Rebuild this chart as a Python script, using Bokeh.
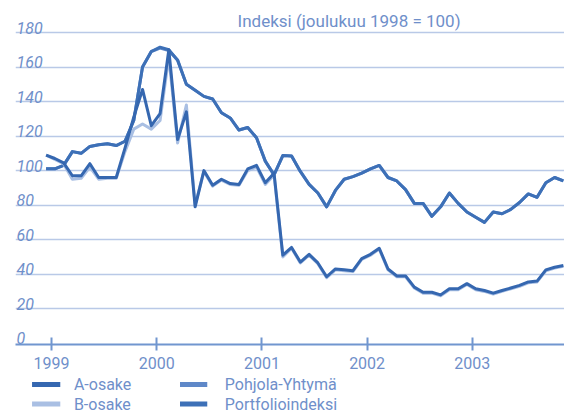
from bokeh.plotting import figure
from bokeh.models import FixedTicker, Range1d
from bokeh.layouts import column
from bokeh.core.properties import value
from bokeh.embed import file_html
from bokeh.resources import INLINE

# ---- data (monthly, joulukuu 1998 .. marraskuu 2003) ----
START_YEAR, START_MONTH, N_MONTHS = 1998, 12, 60

A_OSAKE = [109, 107, 104.5, 97, 97, 104, 96, 96, 96, 113,
           131, 147, 126, 133, 170, 118, 134, 79, 100, 91.5,
           95, 92.5, 92, 101, 103, 93, 98.5, 51, 55.5, 47,
           51.5, 46.5, 38.5, 43, 42.5, 42, 49, 51.5, 55, 43,
           39, 39, 32.5, 29.5, 29.5, 28, 31.5, 31.5, 34.5, 31.5,
           30.5, 29, 30.5, 32, 33.5, 35.5, 36, 42.5, 44, 45]
B_OSAKE = [109, 106.5, 104, 95, 95.5, 102, 95, 95.5, 95.5, 111,
           124, 127, 124, 129, 166, 116, 138, 80, 99.5, 91,
           94.5, 92, 91.5, 100, 102, 92, 97.5, 50, 55, 46.5,
           51, 46, 38, 42.5, 42, 41.5, 48.5, 51, 54.5, 42.5,
           38.5, 38.5, 32, 29, 29, 27.5, 31, 31, 34, 31,
           30, 28.5, 30, 31.5, 33, 35, 35.5, 42, 43.5, 44.5]
POHJOLA = [101, 101, 103, 111, 110, 114, 115, 115.5, 114.5, 117,
           129, 160, 169, 171, 169.5, 164, 150, 146.5, 143, 141.5,
           133.5, 130.5, 123.5, 125, 119, 105.5, 97.5, 108.7, 108.5, 99.5,
           92, 87, 79, 88.5, 95, 96.5, 98.5, 101, 103, 96,
           94, 89, 81, 81, 73.5, 79, 87, 81, 76, 73,
           70, 76, 75, 77.5, 81.5, 86.5, 84.5, 93, 96, 94]
PORTFOLIO = [101, 101, 103, 111, 110, 114, 115, 115.5, 114.5, 117,
             129, 160, 169, 171.5, 170, 164, 150, 146.5, 143, 141.5,
             133.5, 130.5, 123.5, 125, 119, 105.5, 97.5, 108.7, 108.5, 99.5,
             92, 87, 79, 88.5, 95, 96.5, 98.5, 101, 103, 96,
             94, 89, 81, 81, 73.5, 79, 87, 81, 76, 73,
             70, 76, 75, 77.5, 81.5, 86.5, 84.5, 93, 96, 94]

YEARS = [1999, 2000, 2001, 2002, 2003]
Y_TICKS = [0, 20, 40, 60, 80, 100, 120, 140, 160, 180]
TITLE = "Indeksi (joulukuu 1998 = 100)"
LEGEND_COL1 = ["A-osake", "B-osake"]
LEGEND_COL2 = ["Pohjola-Yhtymä", "Portfolioindeksi"]

# month positions as decimal years
xs = []
y, m = START_YEAR, START_MONTH
for _ in range(N_MONTHS):
    xs.append(y + (m - 1) / 12 + 0.032)
    m += 1
    if m > 12:
        m = 1
        y += 1

C_A = "#3567b0"
C_B = "#a9bfe3"
C_POH = "#5f88c8"
C_PORT = "#3d70b7"
C_GRID = "#b9c9e7"
C_AXIS = "#7196cf"
C_TEXT = "#6f8fca"
FONT = "Roboto"

X0, X1 = 1998.658, 2003.876
Y0, Y1 = -0.75, 198.54

p = figure(width=564, frame_width=549, frame_height=344,
           x_range=Range1d(X0, X1), y_range=Range1d(Y0, Y1),
           output_backend="svg", toolbar_location=None,
           min_border_left=15, min_border_right=0, min_border_top=0,
           min_border_bottom=0)
p.outline_line_color = None
p.background_fill_color = "white"
p.border_fill_color = "white"

p.yaxis.visible = False
p.xgrid.visible = False
p.ygrid.ticker = FixedTicker(ticks=[t for t in Y_TICKS if t > 0])
p.ygrid.grid_line_color = C_GRID
p.ygrid.grid_line_width = 1.6

ax = p.xaxis[0]
ax.ticker = FixedTicker(ticks=YEARS)
ax.axis_line_color = C_AXIS
ax.axis_line_width = 2
ax.major_tick_line_color = C_AXIS
ax.major_tick_line_width = 2
ax.major_tick_in = 7
ax.major_tick_out = 6
ax.minor_tick_line_color = None
ax.major_label_text_font = FONT
ax.major_label_text_font_size = "16px"
ax.major_label_text_color = C_TEXT
ax.major_label_standoff = 6

# y tick labels (above the gridlines, italic)
p.text(x=[X0] * len(Y_TICKS), y=Y_TICKS, text=[str(t) for t in Y_TICKS],
       x_offset=1, y_offset=-5, text_align="left", text_baseline="alphabetic",
       text_font=value(FONT), text_font_size="16px", text_font_style="italic",
       text_color=C_TEXT)

# title inside the plot
p.text(x=[2002.888], y=[186.95], text=[TITLE], text_align="right",
       text_baseline="middle", text_font=value(FONT), text_font_size="17px",
       text_color=C_TEXT)

lw = 3
p.line(xs, POHJOLA, line_color=C_POH, line_width=lw, line_join="round")
p.line(xs, PORTFOLIO, line_color=C_PORT, line_width=lw, line_join="round")
p.line(xs, B_OSAKE, line_color=C_B, line_width=lw, line_join="round")
p.line(xs, A_OSAKE, line_color=C_A, line_width=lw, line_join="round")

# legend figure
LH = 43
leg = figure(width=564, height=LH, x_range=Range1d(0, 564), y_range=Range1d(LH, 0),
             output_backend="svg", toolbar_location=None,
             min_border=0, x_axis_location=None, y_axis_location=None)
leg.outline_line_color = None
leg.xgrid.visible = False
leg.ygrid.visible = False

rows_y = [13, 32.5]
col1_colors = [C_A, C_B]
col2_colors = [C_POH, C_PORT]
leg.segment(x0=[17, 17], x1=[46, 46], y0=rows_y, y1=rows_y,
            line_color=col1_colors, line_width=5)
leg.segment(x0=[169, 169], x1=[197, 197], y0=rows_y, y1=rows_y,
            line_color=col2_colors, line_width=5)
leg.text(x=[60, 60], y=rows_y, text=LEGEND_COL1, text_baseline="middle",
         text_font=value(FONT), text_font_size="16px", text_color=C_TEXT)
leg.text(x=[215, 215], y=rows_y, text=LEGEND_COL2, text_baseline="middle",
         text_font=value(FONT), text_font_size="16px", text_color=C_TEXT)

layout = column(p, leg, spacing=0)
open("out.html", "w").write(file_html(layout, INLINE))
